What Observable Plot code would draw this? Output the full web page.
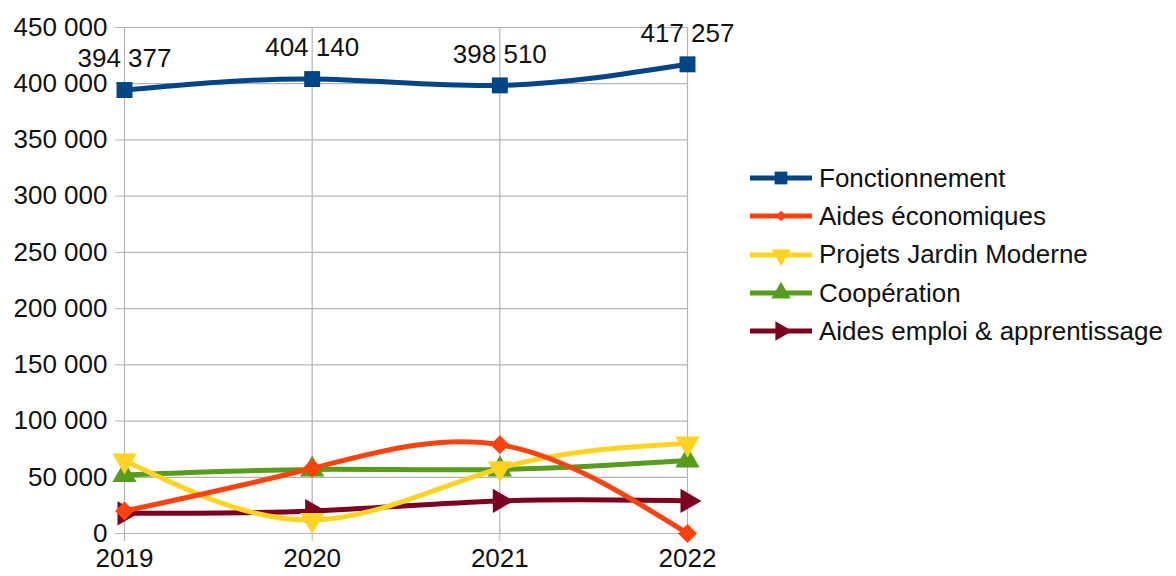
<!DOCTYPE html>
<html>
<head>
<meta charset="utf-8">
<script src="https://cdn.jsdelivr.net/npm/d3@7"></script>
<script src="https://cdn.jsdelivr.net/npm/@observablehq/plot@0.6"></script>
<style>
  html, body { margin: 0; padding: 0; background: #fff; }
  #wrap { position: relative; width: 1176px; height: 576px; font-family: "Liberation Sans", Arial, sans-serif; }
  #legend { position: absolute; left: 750px; top: 159px; }
  .row { display: flex; align-items: center; height: 38.3px; font-size: 26px; color: #111; }
  .row svg { margin-right: 5px; }
</style>
</head>
<body>
<div id="wrap"><div id="chart"></div><div id="legend"></div></div>
<script>
// Budget lines by year
const years = [2019, 2020, 2021, 2022];
const seriesNames = ["Fonctionnement", "Aides économiques", "Projets Jardin Moderne", "Coopération", "Aides emploi & apprentissage"];
const fonctionnement = [394377, 404140, 398510, 417257];
const aidesEconomiques = [20000, 58000, 79000, 0];
const projetsJardin = [65000, 12000, 58000, 80000];
const cooperation = [52000, 57000, 57000, 65000];
const aidesEmploi = [18000, 20000, 29000, 29000];
const yTicks = [0, 50000, 100000, 150000, 200000, 250000, 300000, 350000, 400000, 450000];

const colors = ["#004586", "#ff420e", "#ffd320", "#579d1c", "#7e0021"];
const symbols = ["square", "diamond2", "triangle", "triangle", "triangle"];
const rotations = [0, 0, 180, 0, 90];
const sizes = [9, 8.5, 9, 9, 9];

const valuesBySeries = [fonctionnement, aidesEconomiques, projetsJardin, cooperation, aidesEmploi];
const rows = [];
seriesNames.forEach((name, i) => {
  years.forEach((year, j) => rows.push({series: name, idx: i, year, value: valuesBySeries[i][j]}));
});

const fr = d3.formatLocale({decimal: ",", thousands: " ", grouping: [3]});
const fmt = fr.format(",");

const fontFamily = '"Liberation Sans", Arial, sans-serif';

const marks = [
  Plot.ruleY(yTicks, {stroke: "#b3b3b3", strokeWidth: 1.2, x1: 2019, x2: 2022}),
  Plot.ruleX(years, {stroke: "#b3b3b3", strokeWidth: 1.2, y1: 0, y2: 450000}),
  Plot.axisY(yTicks, {tickFormat: fmt, tickSize: 9, tickPadding: 8, stroke: "#b3b3b3", fontSize: 26, fill: "#111", label: null}),
  Plot.axisX(years, {tickFormat: d => String(d), tickSize: 8, tickPadding: 7, stroke: "#b3b3b3", fontSize: 26, fill: "#111", label: null})
];
// draw from the back series to the front one
for (let i = seriesNames.length - 1; i >= 0; i--) {
  const data = rows.filter(r => r.idx === i);
  marks.push(Plot.line(data, {x: "year", y: "value", stroke: colors[i], strokeWidth: 5, curve: "natural"}));
  marks.push(Plot.dot(data, {x: "year", y: "value", fill: colors[i], symbol: () => symbols[i], rotate: rotations[i], r: sizes[i], stroke: "none"}));
}
marks.push(Plot.text(rows.filter(r => r.idx === 0), {x: "year", y: "value", text: d => fmt(d.value), dy: -31, fontSize: 26, fill: "#111"}));

const chart = Plot.plot({
  width: 1176,
  height: 576,
  marginLeft: 124,
  marginRight: 489,
  marginTop: 27,
  marginBottom: 43,
  style: {fontFamily, background: "white", overflow: "visible"},
  x: {type: "linear", domain: [2019, 2022]},
  y: {domain: [0, 450000]},
  symbol: {type: "identity"},
  marks
});
document.getElementById("chart").appendChild(chart);

// Legend: line swatch with the series marker, then the name
const legend = d3.select("#legend");
const symMap = {square: d3.symbolSquare, diamond2: d3.symbolDiamond2, triangle: d3.symbolTriangle};
seriesNames.forEach((name, i) => {
  const row = legend.append("div").attr("class", "row");
  const svg = row.append("svg").attr("width", 64).attr("height", 22);
  svg.append("line").attr("x1", 0).attr("x2", 62).attr("y1", 11).attr("y2", 11)
    .attr("stroke", colors[i]).attr("stroke-width", 5);
  const s = (symbols[i] === "diamond2" ? 6 : sizes[i]) * 0.8;
  svg.append("path").attr("d", d3.symbol(symMap[symbols[i]], Math.PI * s * s)())
    .attr("transform", `translate(31,11) rotate(${rotations[i]})`).attr("fill", colors[i]);
  row.append("span").text(name);
});
</script>
</body>
</html>
